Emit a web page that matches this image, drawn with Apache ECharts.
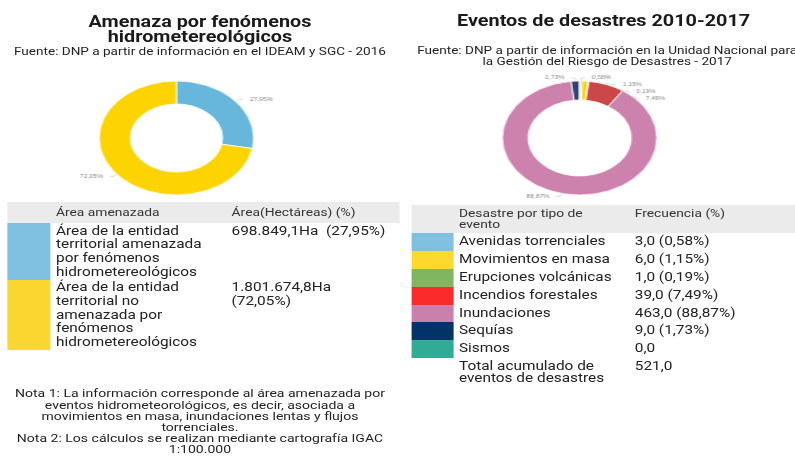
<!DOCTYPE html>
<html>
<head>
<meta charset="utf-8">
<script src="https://cdn.jsdelivr.net/npm/echarts@6/dist/echarts.min.js"></script>
<style>
	html, body {
		margin: 0;
		padding: 0;
		width: 795px;
		height: 457px;
		overflow: hidden;
		background: #fff;
		font-family: Roboto, "Noto Sans", sans-serif;
		color: #222;
	}

	/* la captura original esta estirada en horizontal */
	#page {
		position: absolute;
		left: 0;
		top: 0;
		width: 662.5px;
		height: 457px;
		transform: scaleX(1.2);
		transform-origin: 0 0;
	}

	.title {
		position: absolute;
		text-align: center;
		font-size: 16.5px;
		font-weight: 700;
		line-height: 15px;
		color: #1a1a1a;
		white-space: nowrap;
	}

	.sub {
		position: absolute;
		text-align: center;
		font-size: 11.3px;
		line-height: 11px;
		color: #222;
		white-space: nowrap;
	}

	.pie {
		position: absolute;
		width: 180px;
		height: 130px;
		transform: scaleX(1.13);
		transform-origin: 50% 50%;
	}

	.tbl {
		position: absolute;
	}
	.tbl .hdr, .tbl .row {
		display: flex;
	}
	.tbl .hdr {
		background: #ebebeb;
		font-size: 11.5px;
		color: #333;
	}
	.tbl .row {
		font-size: 12.8px;
		line-height: 13.7px;
		color: #222;
	}
	.tbl .cell {
		box-sizing: border-box;
	}

	#tab1 .hdr {
		height: 21.6px;
		line-height: 21.6px;
	}
	#tab1 .row .cell {
		padding-top: 0.5px;
		padding-bottom: 1px;
	}
	#tab1 .sw { width: 36.7px; }
	#tab1 .c1 { width: 150.5px; padding-left: 4.2px; padding-right: 16px; }
	#tab1 .c2 { width: 140.3px; padding-right: 7px; }

	#tab2 .hdr {
		line-height: 10.7px;
	}
	#tab2 .hdr .cell {
		padding-top: 3.4px;
		padding-bottom: 3.6px;
	}
	#tab2 .row .cell {
		padding-top: 1px;
		padding-bottom: 3.1px;
	}
	#tab2 .row.total .cell {
		line-height: 11.6px;
		padding-top: 2.4px;
	}
	#tab2 .sw { width: 35.8px; }
	#tab2 .c1 { width: 150.7px; padding-left: 4.2px; padding-right: 14.5px; }
	#tab2 .c2 { width: 133.5px; }

	.nota {
		position: absolute;
		left: 0;
		top: 388.4px;
		width: 333.3px;
		text-align: center;
		font-size: 11.7px;
		line-height: 11.2px;
		color: #222;
		white-space: nowrap;
	}
</style>
</head>
<body>
<div id="page">
	<div class="title" style="left: 0; width: 333.3px; top: 13.6px;">Amenaza por fenómenos<br>hidrometereológicos</div>
	<div class="sub" style="left: 0; width: 333.3px; top: 45.6px;">Fuente: DNP a partir de información en el IDEAM y SGC - 2016</div>
	<div id="pie1" class="pie" style="left: 57.2px; top: 72.5px;"></div>
	<div id="tab1" class="tbl" style="left: 5.8px; top: 201.7px; width: 327.5px;"></div>
	<div class="nota">Nota 1: La información corresponde al área amenazada por<br>eventos hidrometeorológicos, es decir, asociada a<br>movimientos en masa, inundaciones lentas y flujos<br>torrenciales.<br>Nota 2: Los cálculos se realizan mediante cartografía IGAC<br>1:100.000</div>

	<div class="title" style="left: 342px; width: 322px; top: 12.9px;">Eventos de desastres 2010-2017</div>
	<div class="sub" style="left: 336px; width: 340px; top: 44.9px;">Fuente: DNP a partir de información en la Unidad Nacional para<br>la Gestión del Riesgo de Desastres - 2017</div>
	<div id="pie2" class="pie" style="left: 392.5px; top: 73px;"></div>
	<div id="tab2" class="tbl" style="left: 342.5px; top: 205px; width: 320px;"></div>
</div>

<script>
	// Amenaza por fenómenos hidrometereológicos (IDEAM y SGC - 2016)
	var amenazaCats = [
		'Área de la entidad territorial amenazada por fenómenos hidrometereológicos',
		'Área de la entidad territorial no amenazada por fenómenos hidrometereológicos'
	];
	var amenazaHa = [698849.1, 1801674.8];
	var amenazaPct = [27.95, 72.05];

	// Eventos de desastres 2010-2017
	var desastreCats = ['Avenidas torrenciales', 'Movimientos en masa', 'Erupciones volcánicas',
		'Incendios forestales', 'Inundaciones', 'Sequías', 'Sismos'];
	var desastreVals = [3, 6, 1, 39, 463, 9, 0];
	var desastrePct = [0.58, 1.15, 0.19, 7.49, 88.87, 1.73, null];

	// colores
	var pieColors1 = ['#67b7dc', '#fdd400'];
	var swColors1 = ['#80c0e0', '#f9d630'];
	var pieColors2 = ['#67b7dc', '#fdd400', '#84b761', '#cc4748', '#cd82ad', '#2f4074', '#448e4d'];
	var swColors2 = ['#80c1e1', '#fcd92e', '#80b662', '#fb2b2b', '#c980ac', '#003366', '#30ab95'];

	// número con formato 1.234,5
	function fmtEs(v, d) {
		var parts = v.toFixed(d).split('.');
		var ent = parts[0].replace(/\B(?=(\d{3})+(?!\d))/g, '.');
		return parts[1] ? ent + ',' + parts[1] : ent;
	}

	function cell(cls, html, bg) {
		var c = document.createElement('div');
		c.className = 'cell ' + cls;
		if (html) c.innerHTML = html;
		if (bg) c.style.background = bg;
		return c;
	}

	function row(cls, cells) {
		var r = document.createElement('div');
		r.className = cls;
		cells.forEach(function(c) { r.appendChild(c); });
		return r;
	}

	// tabla izquierda
	var tab1 = document.getElementById('tab1');
	tab1.appendChild(row('hdr', [cell('sw'), cell('c1', 'Área amenazada'), cell('c2', 'Área(Hectáreas) (%)')]));
	amenazaCats.forEach(function(name, i) {
		var txt = fmtEs(amenazaHa[i], 1) + 'Ha\u00a0 (' + fmtEs(amenazaPct[i], 2) + '%)';
		tab1.appendChild(row('row', [cell('sw', '', swColors1[i]), cell('c1', name), cell('c2', txt)]));
	});

	// tabla derecha
	var tab2 = document.getElementById('tab2');
	tab2.appendChild(row('hdr', [cell('sw'), cell('c1', 'Desastre por tipo de evento'), cell('c2', 'Frecuencia (%)')]));
	var total = 0;
	desastreCats.forEach(function(name, i) {
		total += desastreVals[i];
		var txt = fmtEs(desastreVals[i], 1);
		if (desastrePct[i] != null) txt += ' (' + fmtEs(desastrePct[i], 2) + '%)';
		tab2.appendChild(row('row', [cell('sw', '', swColors2[i]), cell('c1', name), cell('c2', txt)]));
	});
	tab2.appendChild(row('row total', [cell('sw'), cell('c1', 'Total acumulado de eventos de desastres'), cell('c2', fmtEs(total, 1))]));

	// donas
	function pieOption(cats, vals, pcts, colors, inner) {
		return {
			animation: false,
			color: colors,
			series: [{
				type: 'pie',
				center: ['50%', '50%'],
				radius: [inner, 57],
				startAngle: 90,
				clockwise: true,
				silent: true,
				itemStyle: {
					borderColor: '#fff',
					borderWidth: 0.8
				},
				label: {
					show: true,
					position: 'outside',
					fontSize: 5,
					color: '#888',
					formatter: function(p) {
						var v = pcts[p.dataIndex];
						return v == null ? '' : fmtEs(v, 2) + '%';
					}
				},
				labelLine: {
					length: 3,
					length2: 3,
					lineStyle: { color: '#bbb', width: 0.5 }
				},
				data: cats.map(function(c, i) {
					var d = { name: c, value: vals[i] };
					if (!vals[i]) {
						d.label = { show: false };
						d.labelLine = { show: false };
					}
					return d;
				})
			}]
		};
	}

	var pie1 = echarts.init(document.getElementById('pie1'));
	pie1.setOption(pieOption(amenazaCats, amenazaHa, amenazaPct, pieColors1, 34));

	var pie2 = echarts.init(document.getElementById('pie2'));
	pie2.setOption(pieOption(desastreCats, desastreVals, desastrePct, pieColors2, 38));
</script>
</body>
</html>
